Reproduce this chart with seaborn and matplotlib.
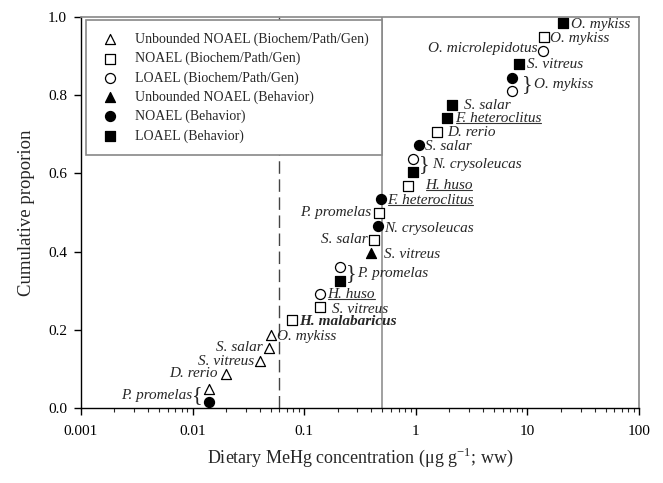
import numpy as np
import pandas as pd
import matplotlib.pyplot as plt
import seaborn as sns
from matplotlib.lines import Line2D
from matplotlib.transforms import IdentityTransform

sns.set_style('ticks')
plt.rcParams['font.family'] = 'Liberation Serif'
plt.rcParams['mathtext.fontset'] = 'custom'
plt.rcParams['mathtext.rm'] = 'Liberation Serif'

# dietary MeHg concentration (ug/g ww) and cumulative proportion
conc = [0.014, 0.014, 0.020, 0.040, 0.048, 0.050, 0.077, 0.14, 0.14, 0.21,
        0.21, 0.40, 0.425, 0.456, 0.468, 0.485, 0.85, 0.94, 0.94, 1.07,
        1.54, 1.89, 2.12, 7.2, 7.2, 8.4, 13.9, 14.2, 21.0]
prop = [0.015, 0.050, 0.088, 0.120, 0.154, 0.188, 0.224, 0.258, 0.292, 0.326,
        0.362, 0.396, 0.430, 0.465, 0.500, 0.534, 0.568, 0.604, 0.638, 0.672,
        0.706, 0.742, 0.776, 0.810, 0.844, 0.880, 0.914, 0.948, 0.984]
endpoint = ['NB', 'UG', 'UG', 'UG', 'UG', 'UG', 'NG', 'NG', 'LG', 'LB',
            'LG', 'UB', 'NG', 'NB', 'NG', 'NB', 'NG', 'LB', 'LG', 'NB',
            'NG', 'LB', 'LB', 'LG', 'NB', 'LB', 'LG', 'NG', 'LB']

groups = ['UG', 'NG', 'LG', 'UB', 'NB', 'LB']
group_names = ['Unbounded NOAEL (Biochem/Path/Gen)', 'NOAEL (Biochem/Path/Gen)',
               'LOAEL (Biochem/Path/Gen)', 'Unbounded NOAEL (Behavior)',
               'NOAEL (Behavior)', 'LOAEL (Behavior)']
group_marker = ['^', 's', 'o', '^', 'o', 's']
group_fill = ['white', 'white', 'white', 'black', 'black', 'black']

# species labels: (text, point index, dx px, dy px, ha, style)
labels = [
    ('P. promelas', 0, -17, 7, 'right', 'i'),
    ('D. rerio', 2, -8, 0, 'right', 'i'),
    ('S. vitreus', 3, -6, 0, 'right', 'i'),
    ('S. salar', 4, -6, 0, 'right', 'i'),
    ('O. mykiss', 5, 6, -2, 'left', 'i'),
    ('H. malabaricus', 6, 8, -1, 'left', 'b'),
    ('S. vitreus', 7, 12, -2, 'left', 'i'),
    ('H. huso', 8, 7, -1, 'left', 'u'),
    ('P. promelas', 9, 17, 7, 'left', 'i'),
    ('S. vitreus', 11, 13, -1, 'left', 'i'),
    ('S. salar', 12, -7, 0, 'right', 'i'),
    ('N. crysoleucas', 13, 6, -2, 'left', 'i'),
    ('P. promelas', 14, -8, 0, 'right', 'i'),
    ('F. heteroclitus', 15, 6, -1, 'left', 'u'),
    ('H. huso', 16, 17, 0, 'left', 'u'),
    ('N. crysoleucas', 17, 19, 7, 'left', 'i'),
    ('S. salar', 19, 6, -1, 'left', 'i'),
    ('D. rerio', 20, 10, -1, 'left', 'i'),
    ('F. heteroclitus', 21, 8, -1, 'left', 'u'),
    ('S. salar', 22, 12, -1, 'left', 'i'),
    ('O. mykiss', 23, 22, 7, 'left', 'i'),
    ('S. vitreus', 25, 8, -1, 'left', 'i'),
    ('O. microlepidotus', 26, -6, 2, 'right', 'i'),
    ('O. mykiss', 27, 6, -1, 'left', 'i'),
    ('O. mykiss', 28, 8, -1, 'left', 'i'),
]
# braces grouping paired points: (char, point index, dx px, dy px)
braces = [('{', 0, -6, 7), ('}', 9, 6, 7), ('}', 17, 6, 7), ('}', 23, 10, 7)]

xticks = [0.001, 0.01, 0.1, 1, 10, 100]
xticklabels = ['0.001', '0.01', '0.1', '1', '10', '100']
yticks = [0.0, 0.2, 0.4, 0.6, 0.8, 1.0]

df = pd.DataFrame({'conc': conc, 'prop': prop, 'endpoint': endpoint})

fig = plt.figure(figsize=(6.63, 4.83), dpi=100)
ax = fig.add_axes([0.122, 0.155, 0.842, 0.810])

ax.axvline(0.06, color='#444444', lw=1.0, ls=(0, (9, 4)), zorder=1)
ax.axvline(0.5, color='#999999', lw=1.3, zorder=1)

for g, name, m, fc in zip(groups, group_names, group_marker, group_fill):
    sub = df[df['endpoint'] == g]
    sns.scatterplot(data=sub, x='conc', y='prop', marker=m, s=52,
                    color=fc, edgecolor='black', linewidth=0.9,
                    label=name, ax=ax, zorder=3)

ax.set_xscale('log')
ax.set_xlim(0.001, 100)
ax.set_ylim(0, 1.0)
ax.set_xticks(xticks)
ax.set_xticklabels(xticklabels)
ax.set_yticks(yticks)
ax.set_yticklabels(['%.1f' % v for v in yticks])
ax.tick_params(axis='both', which='major', direction='out', length=5,
               width=1, labelsize=11, colors='black')
ax.tick_params(axis='x', which='minor', direction='out', length=3, width=0.8)
ax.tick_params(axis='x', pad=7)
ax.tick_params(axis='y', pad=5)
for side in ['left', 'bottom']:
    ax.spines[side].set_color('black')
    ax.spines[side].set_linewidth(1.0)
for side in ['top', 'right']:
    ax.spines[side].set_visible(True)
    ax.spines[side].set_color('#888888')
    ax.spines[side].set_linewidth(1.2)

ax.set_xlabel(r'Dietary MeHg concentration ($\mathregular{\mu}$g g$^{\mathregular{-1}}$; ww)',
              fontsize=13, labelpad=6)
ax.set_ylabel('Cumulative proporion', fontsize=13.5, labelpad=9)

leg = ax.legend(loc='upper left', bbox_to_anchor=(0.009, 0.642, 0.53, 0.35),
                mode='expand', frameon=True, fancybox=False, framealpha=1,
                fontsize=10, labelspacing=0.42, borderpad=0.9,
                handlelength=1.6, handletextpad=1.0, borderaxespad=0)
leg.get_frame().set_edgecolor('#888888')
leg.get_frame().set_linewidth(1.2)
leg.set_zorder(5)

texts = []
for txt, i, dx, dy, ha, st in labels:
    t = ax.annotate(txt, (conc[i], prop[i]), xytext=(dx, dy),
                    textcoords='offset pixels', ha=ha, va='center',
                    fontsize=11, style='italic',
                    fontweight='bold' if st == 'b' else 'normal', zorder=4)
    texts.append((t, st))

for ch, i, dx, dy in braces:
    ax.annotate(ch, (conc[i], prop[i]), xytext=(dx, dy),
                textcoords='offset pixels', ha='right' if ch == '{' else 'left',
                va='center', fontsize=16, zorder=4)

# underline the underlined species names
fig.canvas.draw()
renderer = fig.canvas.get_renderer()
for t, st in texts:
    if st != 'u':
        continue
    bb = t.get_window_extent(renderer)
    fig.add_artist(Line2D([bb.x0 + 1, bb.x1], [bb.y0 + 2, bb.y0 + 2],
                          transform=IdentityTransform(), color='#333333', lw=0.8))

fig.savefig('out.png', dpi=100)
